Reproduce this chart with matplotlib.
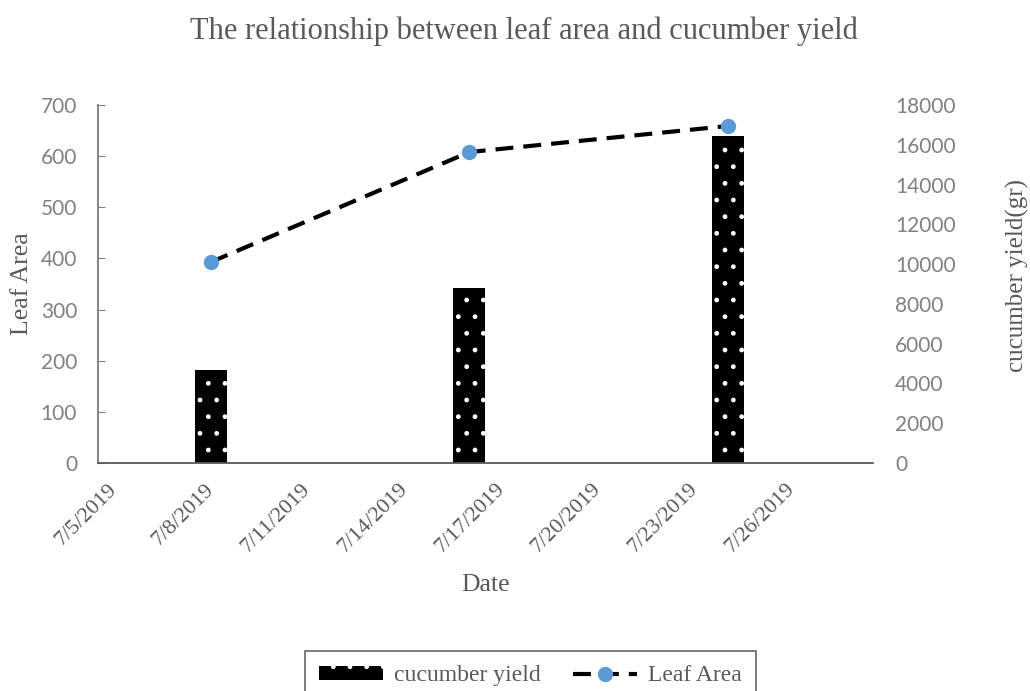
import datetime as dt
import matplotlib
matplotlib.use("Agg")
import matplotlib.pyplot as plt
import matplotlib.dates as mdates

# Measurement data
dates = ["2019-07-08", "2019-07-16", "2019-07-24"]
leaf_area = [393, 608, 659]
cucumber_yield = [4700, 8800, 16450]

# Date axis ticks
tick_dates = ["2019-07-05", "2019-07-08", "2019-07-11", "2019-07-14",
              "2019-07-17", "2019-07-20", "2019-07-23", "2019-07-26"]
tick_labels = ["7/5/2019", "7/8/2019", "7/11/2019", "7/14/2019",
               "7/17/2019", "7/20/2019", "7/23/2019", "7/26/2019"]
left_ticks = [0, 100, 200, 300, 400, 500, 600, 700]
right_ticks = [0, 2000, 4000, 6000, 8000, 10000, 12000, 14000, 16000, 18000]

SERIF = ["Liberation Serif", "DejaVu Serif"]
SANS = ["Lato", "DejaVu Sans"]
TEXT_GRAY = "#595959"
TICK_GRAY = "#808080"
BLUE = "#5B9BD5"

parse = lambda s: dt.datetime.strptime(s, "%Y-%m-%d")
x = [parse(d) for d in dates]
xt = [parse(d) for d in tick_dates]

fig = plt.figure(figsize=(10.3, 6.91), dpi=100)
ax = fig.add_axes([0.0951, 0.330, 0.7525, 0.518])
ax2 = ax.twinx()
ax.set_zorder(ax2.get_zorder() + 1)
ax.patch.set_visible(False)

# Yield columns: black fill with white dot pattern
ax2.bar(x, cucumber_yield, width=1.0, facecolor="black", edgecolor="white",
        hatch=".", linewidth=0, label="cucumber yield")

# Leaf area line
ax.plot(x, leaf_area, color="black", lw=3.0, dashes=(4.3, 2.4),
        marker="o", ms=10, mfc=BLUE, mec=BLUE, label="Leaf Area")

xmin = mdates.date2num(parse("2019-07-04")) + 0.5
xmax = mdates.date2num(parse("2019-07-28")) + 0.5
ax.set_xlim(xmin, xmax)
ax.set_ylim(0, 700)
ax2.set_ylim(0, 18000)

ax.set_yticks(left_ticks)
ax.set_yticklabels([str(v) for v in left_ticks], family=SANS, fontsize=15,
                   color=TICK_GRAY)
ax2.set_yticks(right_ticks)
ax2.set_yticklabels([str(v) for v in right_ticks], family=SANS, fontsize=15,
                    color=TICK_GRAY)
ax.set_xticks(xt)
ax.set_xticklabels(tick_labels, family=SERIF, fontsize=16, color=TEXT_GRAY,
                   rotation=45, ha="right", va="center",
                   rotation_mode="anchor")

ax.tick_params(axis="y", direction="in", length=5, color=TICK_GRAY, pad=15)
ax.tick_params(axis="x", length=0, pad=17)
ax2.tick_params(axis="y", length=0, pad=16)

for s in ("top", "right"):
    ax.spines[s].set_visible(False)
for s in ax2.spines.values():
    s.set_visible(False)
ax.spines["left"].set_color("#7a7a7a")
ax.spines["left"].set_linewidth(1.3)
ax.spines["bottom"].set_color("#595959")
ax.spines["bottom"].set_linewidth(1.3)

ax.set_ylabel("Leaf Area", family=SERIF, fontsize=18.5, color=TEXT_GRAY)
ax.yaxis.set_label_coords(-0.084, 0.5)
ax2.set_ylabel("cucumber yield(gr)", family=SERIF, fontsize=18,
               color=TEXT_GRAY, rotation=90)
ax2.yaxis.set_label_coords(1.1715, 0.525)
ax.set_xlabel("Date", family=SERIF, fontsize=18.5, color=TEXT_GRAY)
ax.xaxis.set_label_coords(0.5, -0.31)

fig.text(0.509, 0.955, "The relationship between leaf area and cucumber yield",
         family=SERIF, fontsize=22, color=TEXT_GRAY, ha="center", va="center")

h1, l1 = ax2.get_legend_handles_labels()
h2, l2 = ax.get_legend_handles_labels()
leg = fig.legend(h1 + h2, l1 + l2, loc="center", bbox_to_anchor=(0.515, 0.022),
                 ncol=2, frameon=True, fancybox=False, handlelength=2.7,
                 handleheight=0.55, handletextpad=0.45, columnspacing=1.4,
                 borderpad=0.6, borderaxespad=0,
                 prop={"family": SERIF, "size": 17})
leg.get_frame().set_edgecolor("#404040")
leg.get_frame().set_linewidth(1.2)
for t in leg.get_texts():
    t.set_color(TEXT_GRAY)

fig.savefig("out.png", dpi=100)
